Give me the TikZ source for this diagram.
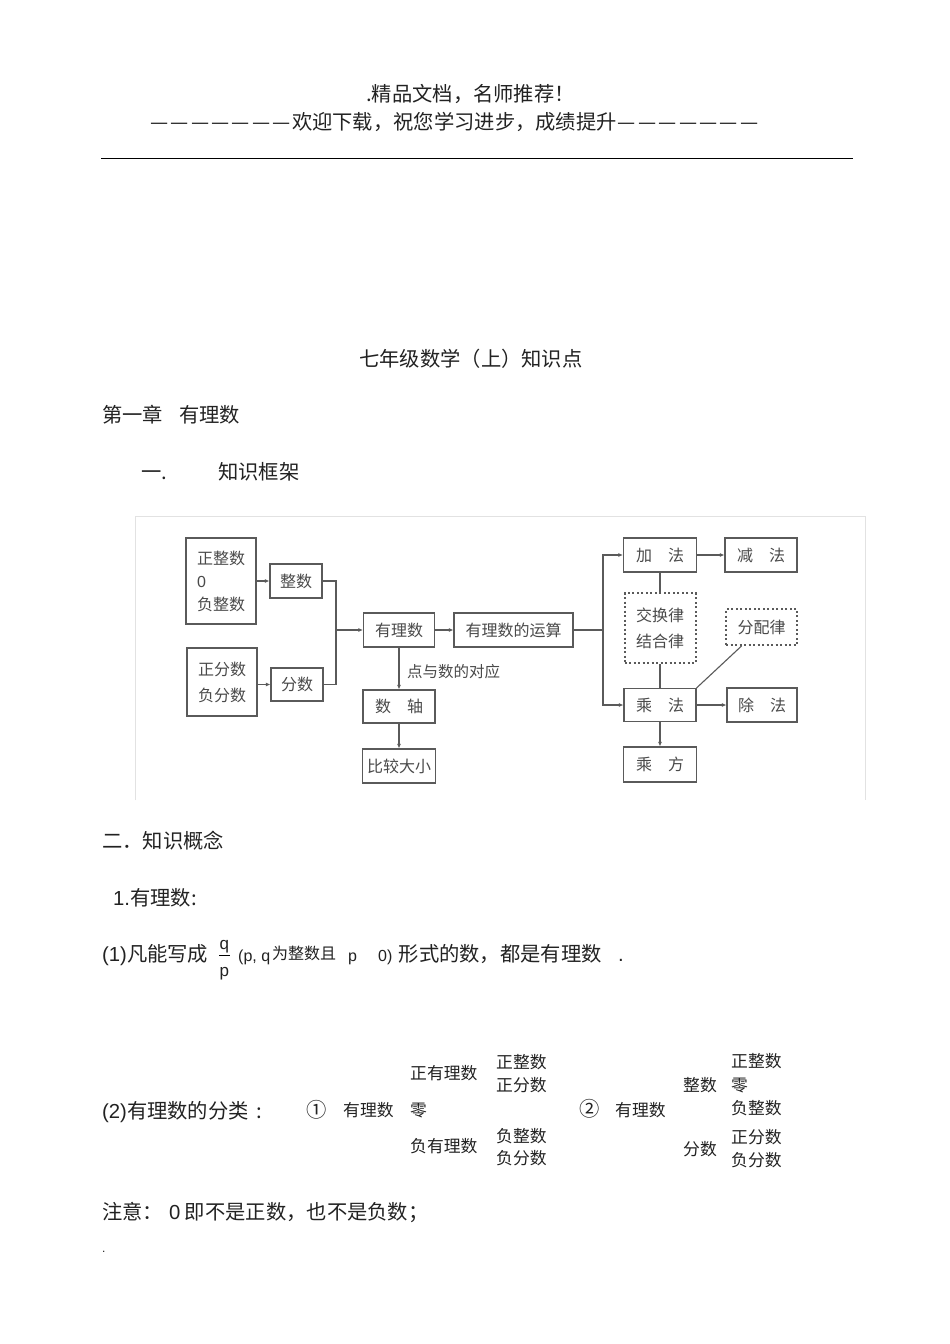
\documentclass[tikz,border=0pt]{standalone}
\usepackage{fontspec}
\setmainfont{Noto Sans CJK SC}
\newfontfamily\latinfont{Liberation Sans}
\usetikzlibrary{arrows.meta}
\definecolor{inkcol}{HTML}{222222}
\definecolor{boxcol}{HTML}{5A5A5A}
\definecolor{boxtext}{HTML}{4A4A4A}
\definecolor{framecol}{HTML}{E2E2E2}
\newcommand{\bigfont}{\fontsize{20.3}{24}\selectfont}
\newcommand{\midfont}{\fontsize{16.8}{20}\selectfont}
\newcommand{\boxfont}{\fontsize{16}{26}\selectfont}
\newcommand{\dashrun}{\foreach \i in {1,...,7} {\makebox[20.4pt]{\fontsize{20.3}{24}\selectfont —}}}
\tikzset{
    numbox/.style={draw=boxcol,line width=1.1pt,inner sep=0pt,text=boxtext,font=\boxfont},
    lawbox/.style={numbox,dash pattern=on 2pt off 2.5pt,line width=2pt},
    arr/.style={draw=boxcol,line width=1.1pt,-{Latex[length=4.5pt,width=4pt]}},
    conn/.style={draw=boxcol,line width=1.1pt},
    big/.style={anchor=base west,inner sep=0pt,text=inkcol,font=\bigfont},
    mid/.style={anchor=base west,inner sep=0pt,text=inkcol,font=\midfont}
}
\begin{document}
\begin{tikzpicture}[x=1pt,y=-1pt]
                \useasboundingbox [fill=white] (0,0) rectangle (950,1344);
                % header
                \node [big] (head1) at (366,101) {.精品文档，名师推荐！};
                \node [big] (head2) at (149,129) {\dashrun 欢迎下载，祝您学习进步，成绩提升\dashrun};
                \draw [black,line width=1pt] (101,158) -- (853,158);
                % titles
                \node [big] (title) at (359,366) {七年级数学（上）知识点};
                \node [big] (chap) at (102,422) {第一章\hspace{16pt}有理数};
                \node [big] (one) at (141,479) {一.};
                \node [big] (frameTitle) at (218,479) {知识框架};
                % scanned figure
                \draw [framecol,line width=1pt] (135,800) -- (135,516) -- (865,516) -- (865,800);
                \node [numbox,minimum width=70pt,minimum height=86pt,align=left] (intlist) at (221,581) {正整数\\[-3pt]{\latinfont 0}\\[-3pt]负整数};
                \node [numbox,minimum width=52pt,minimum height=34pt] (zhengshu) at (296,581) {整数};
                \node [numbox,minimum width=70pt,minimum height=68pt,align=left] (fraclist) at (222,682) {正分数\\负分数};
                \node [numbox,minimum width=52pt,minimum height=33pt] (fenshu) at (297,684.5) {分数};
                \node [numbox,minimum width=71pt,minimum height=34pt] (youli) at (399,630) {有理数};
                \node [numbox,minimum width=119pt,minimum height=34pt] (yunsuan) at (513.5,630) {有理数的运算};
                \node [numbox,minimum width=72pt,minimum height=33pt] (shuzhou) at (399,706.5) {数\hspace{16pt}轴};
                \node [numbox,minimum width=73pt,minimum height=34pt] (bijiao) at (399,766) {比较大小};
                \node [numbox,minimum width=73pt,minimum height=34pt] (jia) at (660,555) {加\hspace{16pt}法};
                \node [numbox,minimum width=72pt,minimum height=34pt] (jian) at (761,555) {减\hspace{16pt}法};
                \node [lawbox,minimum width=71pt,minimum height=70pt,align=center] (jiaohuan) at (660,628) {交换律\\结合律};
                \node [lawbox,minimum width=71pt,minimum height=36pt] (peilaw) at (761.5,627) {分配律};
                \node [numbox,minimum width=72pt,minimum height=33pt] (cheng) at (660,705) {乘\hspace{16pt}法};
                \node [numbox,minimum width=70pt,minimum height=34pt] (chu) at (762,705) {除\hspace{16pt}法};
                \node [numbox,minimum width=73pt,minimum height=35pt] (chengfang) at (660,764.5) {乘\hspace{16pt}方};
                \node [anchor=west,inner sep=0pt,text=boxtext,font=\fontsize{15.5}{18}\selectfont] (duiying) at (407,672) {点与数的对应};
                \coordinate (leftjoin) at (336,630);
                \coordinate (rightjoin) at (603,630);
                \draw [arr] (intlist) -- (zhengshu);
                \draw [arr] (fraclist.east |- fenshu) -- (fenshu);
                \draw [conn] (zhengshu.east) -| (leftjoin);
                \draw [conn] (fenshu.east) -| (leftjoin);
                \draw [arr] (leftjoin) -- (youli);
                \draw [arr] (youli) -- (yunsuan);
                \draw [arr] (youli) -- (shuzhou);
                \draw [arr] (shuzhou) -- (bijiao);
                \draw [conn] (yunsuan) -- (rightjoin);
                \draw [arr] (rightjoin) |- (jia);
                \draw [arr] (rightjoin) |- (cheng);
                \draw [arr] (jia) -- (jian);
                \draw [conn] (jia) -- (jiaohuan);
                \draw [conn] (jiaohuan) -- (cheng);
                \draw [conn] ([xshift=-20pt]peilaw.south) -- (cheng.north east);
                \draw [arr] (cheng) -- (chu);
                \draw [arr] (cheng) -- (chengfang);
                % concepts
                \node [big] (two) at (102,848) {二．知识概念};
                \node [big] (item1) at (113,905) {{\latinfont 1.}有理数:};
                \node [big] (def1) at (102,961) {{\latinfont (1)}凡能写成};
                \node [mid,font=\fontsize{17}{20}\selectfont\latinfont] (numq) at (219.5,949) {q};
                \node [mid,font=\fontsize{17}{20}\selectfont\latinfont] (denp) at (219.5,976) {p};
                \draw [black,line width=.8pt] (219,955) -- (230,955);
                \node [mid,font=\fontsize{16}{20}\selectfont\latinfont] (pq) at (238,961) {(p, q};
                \node [mid,font=\fontsize{16}{20}\selectfont] (cond) at (272,959) {为整数且};
                \node [mid,font=\fontsize{16}{20}\selectfont\latinfont] (condp) at (348,961) {p};
                \node [mid,font=\fontsize{16}{20}\selectfont\latinfont] (zero) at (378,961) {0)};
                \node [big] (rest) at (398.5,961) {形式的数，都是有理数};
                \node [big,font=\bigfont\latinfont] (stop) at (618,961) {.};
                % classification
                \node [big] (class) at (102,1118) {{\latinfont (2)}有理数的分类\hspace{8pt}:};
                \node [mid,font=\fontsize{20.3}{24}\selectfont] (circA) at (306,1117) {①};
                \node [mid] (ratA) at (343,1116) {有理数};
                \node [mid] (posrat) at (410,1079) {正有理数};
                \node [mid] (zeroA) at (410,1116) {零};
                \node [mid] (negrat) at (410,1152) {负有理数};
                \node [mid] (posintA) at (496,1068) {正整数};
                \node [mid] (posfracA) at (496,1091) {正分数};
                \node [mid] (negintA) at (496,1142) {负整数};
                \node [mid] (negfracA) at (496,1164) {负分数};
                \node [mid,font=\fontsize{20.3}{24}\selectfont] (circB) at (579,1116) {②};
                \node [mid] (ratB) at (615,1116) {有理数};
                \node [mid] (intB) at (683,1091) {整数};
                \node [mid] (fracB) at (683,1155) {分数};
                \node [mid] (posintB) at (731,1067) {正整数};
                \node [mid] (zeroB) at (731,1091) {零};
                \node [mid] (negintB) at (731,1114) {负整数};
                \node [mid] (posfracB) at (731,1143) {正分数};
                \node [mid] (negfracB) at (731,1166) {负分数};
                \node [big] (note) at (102,1219) {注意：\hspace{6pt}{\latinfont 0} 即不是正数，也不是负数；};
                \node [mid,font=\fontsize{12}{14}\selectfont\latinfont] (dot) at (102,1252) {.};
            \end{tikzpicture}
\end{document}
